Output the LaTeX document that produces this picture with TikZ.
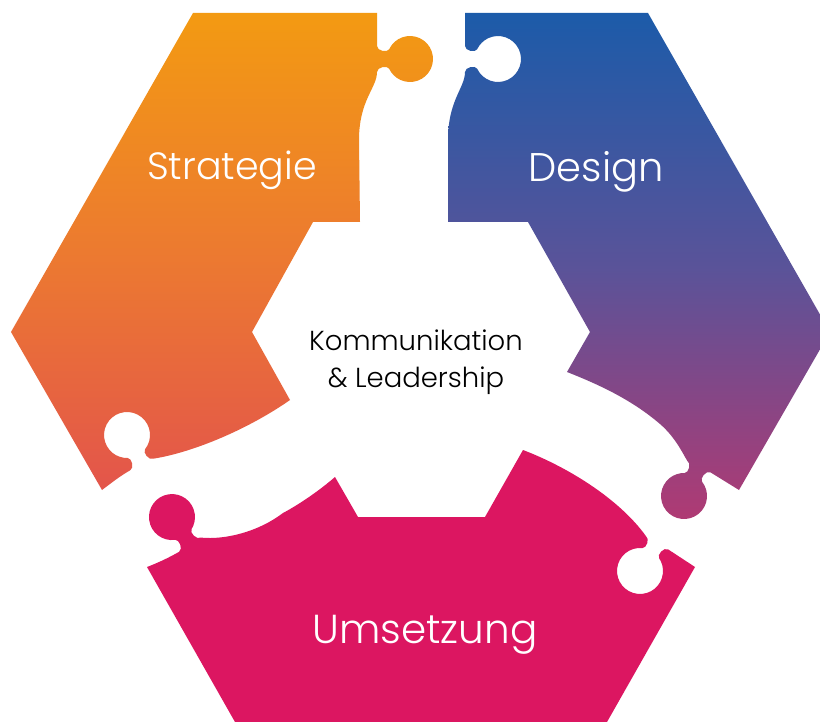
\documentclass[tikz,border=0pt]{standalone}
\usepackage{fontspec}
\setmainfont{Poppins Light}
\definecolor{oTop}{HTML}{F39A12}
\definecolor{oMid}{HTML}{EC7A30}
\definecolor{oBot}{HTML}{E3554B}
\definecolor{bTop}{HTML}{1C5BA9}
\definecolor{bMid}{HTML}{5A5399}
\definecolor{bBot}{HTML}{B03A73}
\definecolor{mag}{HTML}{DC1661}
% knob geometry: name, base x, base y, direction (image degrees, y down)
\newcommand\knobdef[4]{%
  \path[shift={(#2,#3)},rotate=-#4]
    (0,-13) coordinate (#1-s1) (0,-8) coordinate (#1-c1)
    (10.46,-6.1) coordinate (#1-c2) (12.15,-9.72) coordinate (#1-j1)
    (12.15,9.72) coordinate (#1-j2) (10.46,6.1) coordinate (#1-c3)
    (0,8) coordinate (#1-c4) (0,13) coordinate (#1-s2);}
\newcommand\kA[2]{.. controls (#1-c1) and (#1-c2) .. (#1-j1)
  arc[start angle={205+#2},end angle={515+#2},radius=23]
  .. controls (#1-c3) and (#1-c4) .. (#1-s2)}
\newcommand\kB[2]{.. controls (#1-c4) and (#1-c3) .. (#1-j2)
  arc[start angle={155+#2},end angle={-155+#2},radius=23]
  .. controls (#1-c2) and (#1-c1) .. (#1-s1)}
\tikzset{
  piecelabel/.style={text=white,anchor=base,inner sep=0pt},
  centerlabel/.style={text=black,font=\fontsize{27.5}{30}\selectfont,anchor=base,inner sep=0pt}
}
\begin{document}
\begin{tikzpicture}[x=1pt,y=-1pt]
\useasboundingbox (0,0) rectangle (820,722);
\fill[white] (0,0) rectangle (820,722);
\clip (0,0) rectangle (820,722);
\knobdef{ok}{377}{59}{0}
\knobdef{oh}{141.8}{464.5}{243.4}
\knobdef{bh}{465}{59}{0}
\knobdef{pk}{698.8}{466.5}{116.6}
\knobdef{mk}{190.0}{544.7}{236.9}
\knobdef{mh}{657}{542.7}{121}
% Strategie piece
\shade[top color=oTop,bottom color=oBot,middle color=oMid]
  (193,13) -- (377,13) -- (ok-s1) \kA{ok}{0}
  .. controls (377,88) and (359,100) .. (359,140) -- (360,222)
  -- (313,222) -- (252,332) -- (290,400)
  .. controls (250,428) and (195,452) .. (oh-s2) \kB{oh}{243.4}
  .. controls (120,476) and (110,484) .. (102,490) -- (11,332) -- cycle;
% Design piece
\shade[top color=bTop,bottom color=bBot,middle color=bMid]
  (465,13) -- (648,13) -- (830,332) -- (739,490) -- (pk-s1) \kA{pk}{116.6}
  .. controls (682,452) and (675,437) .. (660,424)
  .. controls (632,400) and (600,385) .. (567,372)
  -- (590,332) -- (528,222) -- (448,222) -- (448,140)
  .. controls (448,100) and (465,88) .. (bh-s2) \kB{bh}{0} -- (465,13) -- cycle;
% Umsetzung piece
\fill[mag]
  (147,567) .. controls (160,562) and (170,557) .. (mk-s1) \kA{mk}{236.9}
  .. controls (225,540) and (258,532) .. (283,513)
  .. controls (300,504) and (320,490) .. (335,477)
  -- (358,517) -- (485,517) -- (523,450)
  .. controls (570,468) and (620,500) .. (mh-s2) \kB{mh}{121}
  -- (695,567) -- (607,722) -- (235,722) -- cycle;
% labels
\node[piecelabel,font=\fontsize{38}{42}\selectfont] (strat) at (232,180) {Strategie};
\node[piecelabel,font=\fontsize{40}{44}\selectfont] (design) at (596,182) {Design};
\node[piecelabel,font=\fontsize{40.5}{44}\selectfont] (umset) at (425,643) {Umsetzung};
\node[centerlabel] (komm) at (416,350) {Kommunikation};
\node[centerlabel] (lead) at (416,388) {\& Leadership};
\end{tikzpicture}
\end{document}
